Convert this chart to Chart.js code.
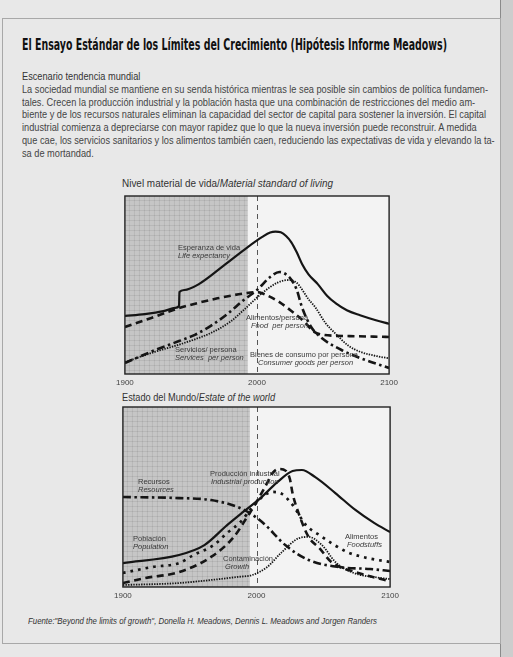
<!DOCTYPE html>
<html>
<head>
<meta charset="utf-8">
<script src="https://cdn.jsdelivr.net/npm/chart.js@4/dist/chart.umd.min.js"></script>
<style>
  html,body{margin:0;padding:0;}
  body{width:513px;height:657px;background:#e8e8e8;position:relative;overflow:hidden;font-family:"Liberation Sans",Arial,sans-serif;}
  .abs{position:absolute;white-space:nowrap;}
  .fit{transform-origin:0 50%;display:inline-block;}
  .lbl{position:absolute;white-space:nowrap;font-family:"Liberation Sans Narrow","Liberation Sans",sans-serif;font-size:7.5px;color:#3a3a3a;line-height:8px;}
  .lbl i{font-style:italic;}
  canvas{position:absolute;}
</style>
</head>
<body>
<div class="abs" style="left:500px;top:0;width:13px;height:657px;background:#cdcdcd;border-left:1px solid #8a8a8a;"></div>
<div class="abs" style="left:2px;top:18px;width:497px;height:624px;border:1px solid #a8a8a8;"></div>

<div class="abs" style="left:22px;top:36px;"><span id="title" class="fit" style="font-family:'Liberation Sans Narrow','DejaVu Sans Condensed',sans-serif;font-weight:bold;font-size:15px;color:#111;">El Ensayo Estándar de los Límites del Crecimiento (Hipótesis Informe Meadows)</span></div>

<div class="abs" style="left:22px;top:70px;font-size:10.5px;color:#333;"><span id="esc" class="fit">Escenario tendencia mundial</span></div>
<div id="para" class="abs" style="left:22px;top:83px;font-size:10.5px;color:#444;line-height:12.7px;">
<div><span class="fit pl">La sociedad mundial se mantiene en su senda histórica mientras le sea posible sin cambios de política fundamen-</span></div>
<div><span class="fit pl">tales. Crecen la producción industrial y la población hasta que una combinación de restricciones del medio am-</span></div>
<div><span class="fit pl">biente y de los recursos naturales eliminan la capacidad del sector de capital para sostener la inversión. El capital</span></div>
<div><span class="fit pl">industrial comienza a depreciarse con mayor rapidez que lo que la nueva inversión puede reconstruir. A medida</span></div>
<div><span class="fit pl">que cae, los servicios sanitarios y los alimentos también caen, reduciendo las expectativas de vida y elevando la ta-</span></div>
<div><span class="fit pl">sa de mortandad.</span></div>
</div>

<div class="abs" style="left:122px;top:177px;font-size:10.5px;color:#333;"><span id="t1" class="fit">Nivel material de vida/<i>Material standard of living</i></span></div>
<div class="abs" style="left:122px;top:391px;font-size:10.5px;color:#333;"><span id="t2" class="fit">Estado del Mundo/<i>Estate of the world</i></span></div>

<canvas id="c1" width="290" height="198" style="left:112px;top:190px;"></canvas>
<canvas id="c2" width="293" height="200" style="left:110px;top:401px;"></canvas>

<div class="lbl" style="left:178px;top:244px;">Esperanza de vida<br><i>Life expectancy</i></div>
<div class="lbl" style="left:246px;top:314px;">Alimentos/persona<br><i style="padding-left:5px">Food&nbsp; per person</i></div>
<div class="lbl" style="left:175px;top:346px;">Servicios/ persona<br><i>Services&nbsp; per person</i></div>
<div class="lbl" style="left:250px;top:351px;">Bienes de consumo por persona<br><i style="padding-left:8px">Consumer goods per person</i></div>

<div class="lbl" style="left:138px;top:478px;">Recursos<br><i>Resources</i></div>
<div class="lbl" style="left:210px;top:470px;">Producción industrial<br><i style="padding-left:1px">Industrial production</i></div>
<div class="lbl" style="left:133px;top:535px;">Población<br><i>Population</i></div>
<div class="lbl" style="left:223px;top:555px;">Contaminación<br><i style="padding-left:2px">Growth</i></div>
<div class="lbl" style="left:345px;top:533px;">Alimentos<br><i style="padding-left:2px">Foodstuffs</i></div>

<div class="abs" style="left:28px;top:616px;font-size:8.5px;color:#333;font-style:italic;"><span id="src" class="fit">Fuente:"Beyond the limits of growth", Donella H. Meadows, Dennis L. Meadows and Jorgen Randers</span></div>

<script>
// ---------- DATA ----------
const xTicks = [1900, 2000, 2100];

// Nivel material de vida / Material standard of living  ([year, value])
const lifeExpectancy = [[1900,32.6],[1915,33.6],[1930,35.5],[1938,37.2],[1941,38.2],[1941.3,46.1],[1945,47.2],[1956,50.5],[1975,61],[1993,71.3],[2004,77],[2010,79.5],[2014,80],[2018,79.6],[2022,77.5],[2026,74],[2030,68.5],[2034,62],[2039,56],[2046,50.5],[2053,44],[2060,39.5],[2068,35.8],[2078,33],[2090,30.2],[2100,28.2]];
const foodPerPerson = [[1900,26.4],[1920,31.5],[1941,37],[1970,42.5],[1990,45.2],[2000,46],[2008,44],[2017,40.4],[2027,34.8],[2036,29.2],[2043,23.8],[2050,22],[2070,21.3],[2100,20.8]];
const servicesPerPerson = [[1900,6.7],[1923,12.5],[1941,16.5],[1953,19.5],[1965,23],[1980,29.5],[1990,36],[2004,45.5],[2016,51.5],[2024,52.8],[2030,51.3],[2039,42],[2044,37.6],[2052,28.5],[2059,23],[2069,16],[2078,12.5],[2091,10],[2100,8.8]];
const consumerGoodsPerPerson = [[1900,6.2],[1923,13.5],[1941,18.5],[1953,22],[1965,27],[1978,34],[1990,41.6],[2000,47.2],[2010,54.5],[2017,57.3],[2022,56],[2026,53],[2030,47.5],[2034,37.6],[2041,26.4],[2049,20.2],[2064,13.5],[2078,9],[2100,3.4]];

// Estado del Mundo / Estate of the world  ([year, value])
const resources = [[1900,50],[1942,49.4],[1966,48.3],[1986,44.4],[1995,41],[2005,35.6],[2022,23],[2039,15],[2063,11],[2085,10],[2100,8.9]];
const population = [[1900,13.3],[1942,17.8],[1961,23.3],[1978,34.4],[1990,41.7],[2003,49.4],[2015,57.8],[2027,64.4],[2034,65],[2044,61],[2059,52.2],[2074,42.8],[2088,35.6],[2100,30.5]];
const industrialProduction = [[1900,2.2],[1917,5],[1942,8.3],[1966,16.7],[1983,27.8],[1993,38.9],[2000,47.2],[2008,57.8],[2012,63.3],[2017,65.6],[2022,64.5],[2025,60],[2027,52],[2032,40],[2039,27.8],[2047,21.7],[2056,13.9],[2074,8.3],[2096,3.9],[2100,3.3]];
const foodstuffs = [[1900,7.8],[1922,11.1],[1942,13.3],[1953,17.8],[1968,23.3],[1978,30],[1988,36.1],[1997,44.4],[2006,51],[2012,52.8],[2019,51.7],[2027,45.6],[2037,34.4],[2047,28.9],[2068,19.4],[2083,16.1],[2100,13.9]];
const pollution = [[1900,1.1],[1942,2.2],[1966,3.9],[1986,5.6],[1997,6.7],[2008,11.1],[2019,19.4],[2032,27.2],[2039,27.8],[2049,23.3],[2059,13.9],[2071,8.3],[2093,5],[2100,4.4]];

// ---------- text fitting (layout only) ----------
function fitTo(el, w){ const r = el.getBoundingClientRect().width; el.style.transform = 'scaleX(' + (w/r) + ')'; }
fitTo(document.getElementById('title'), 425);
const pls = document.querySelectorAll('.pl');
const f = 466 / pls[0].getBoundingClientRect().width;
pls.forEach(p => p.style.transform = 'scaleX(' + f + ')');
document.getElementById('esc').style.transform = 'scaleX(' + f + ')';
fitTo(document.getElementById('t1'), 211);
fitTo(document.getElementById('t2'), 153);
fitTo(document.getElementById('src'), 349);

// ---------- charts ----------
const toXY = arr => arr.map(p => ({x: p[0], y: p[1]}));
const INK = '#151515';
const STYLES = {
  solid:   {borderWidth: 2.2, borderDash: []},
  dashed:  {borderWidth: 2.6, borderDash: [7, 4.5]},
  dashdot: {borderWidth: 2.6, borderDash: [8, 3.5, 2.5, 3.5]},
  fine:    {borderWidth: 1.8, borderDash: [1.4, 1.2]},
  dots:    {borderWidth: 2.7, borderDash: [2.7, 5]}
};
function ds(label, arr, style){
  return Object.assign({label, data: toXY(arr), borderColor: INK, pointRadius: 0, fill: false,
    cubicInterpolationMode: 'monotone', borderCapStyle: 'butt'}, STYLES[style]);
}

const framePlugin = {
  id: 'frame',
  beforeDatasetsDraw(chart, args, opts){
    const {ctx, chartArea: a, scales: {x}} = chart;
    ctx.save();
    ctx.fillStyle = '#f3f3f3';
    ctx.fillRect(a.left, a.top, a.width, a.height);
    const xe = x.getPixelForValue(opts.shadeEnd);
    ctx.fillStyle = '#c6c6c6';
    ctx.fillRect(a.left, a.top, xe - a.left, a.height);
    ctx.strokeStyle = 'rgba(0,0,0,0.07)';
    ctx.lineWidth = 1;
    ctx.beginPath();
    for (let gx = a.left + 4.5; gx < xe; gx += 5){ ctx.moveTo(gx, a.top); ctx.lineTo(gx, a.bottom); }
    for (let gy = a.top + 4.5; gy < a.bottom; gy += 5){ ctx.moveTo(a.left, gy); ctx.lineTo(xe, gy); }
    ctx.stroke();
    const xd = Math.round(x.getPixelForValue(2000)) + 0.5;
    ctx.strokeStyle = '#555';
    ctx.lineWidth = 1;
    ctx.setLineDash([5, 4]);
    ctx.beginPath(); ctx.moveTo(xd, a.top); ctx.lineTo(xd, a.bottom); ctx.stroke();
    ctx.restore();
  },
  afterDraw(chart){
    const {ctx, chartArea: a} = chart;
    ctx.save();
    ctx.strokeStyle = '#222';
    ctx.lineWidth = 1.4;
    ctx.strokeRect(a.left, a.top, a.width, a.height);
    ctx.restore();
  }
};

function makeChart(id, datasets, shadeEnd){
  return new Chart(document.getElementById(id), {
    type: 'line',
    data: {datasets},
    options: {
      responsive: false, animation: false, devicePixelRatio: 1,
      layout: {padding: {left: 10, right: 10, top: 6, bottom: 0}},
      plugins: {legend: {display: false}, tooltip: {enabled: false}, frame: {shadeEnd}},
      scales: {
        x: {type: 'linear', min: 1900, max: 2100,
            afterBuildTicks: s => { s.ticks = xTicks.map(v => ({value: v})); },
            afterFit: s => { s.height = 14; },
            grid: {display: false, drawTicks: false}, border: {display: false},
            ticks: {autoSkip: false, maxRotation: 0, padding: 4, color: '#444',
                    callback: v => String(v),
                    font: {family: '"Liberation Sans Narrow","Liberation Sans",sans-serif', size: 8}}},
        y: {display: false, min: 0, max: 100}
      }
    },
    plugins: [framePlugin]
  });
}

makeChart('c1', [
  ds('Esperanza de vida', lifeExpectancy, 'solid'),
  ds('Alimentos/persona', foodPerPerson, 'dashed'),
  ds('Servicios/persona', servicesPerPerson, 'fine'),
  ds('Bienes de consumo por persona', consumerGoodsPerPerson, 'dashdot')
], 1993);

makeChart('c2', [
  ds('Población', population, 'solid'),
  ds('Recursos', resources, 'dashdot'),
  ds('Producción industrial', industrialProduction, 'dashed'),
  ds('Alimentos', foodstuffs, 'dots'),
  ds('Contaminación', pollution, 'fine')
], 1995);
</script>
</body>
</html>
